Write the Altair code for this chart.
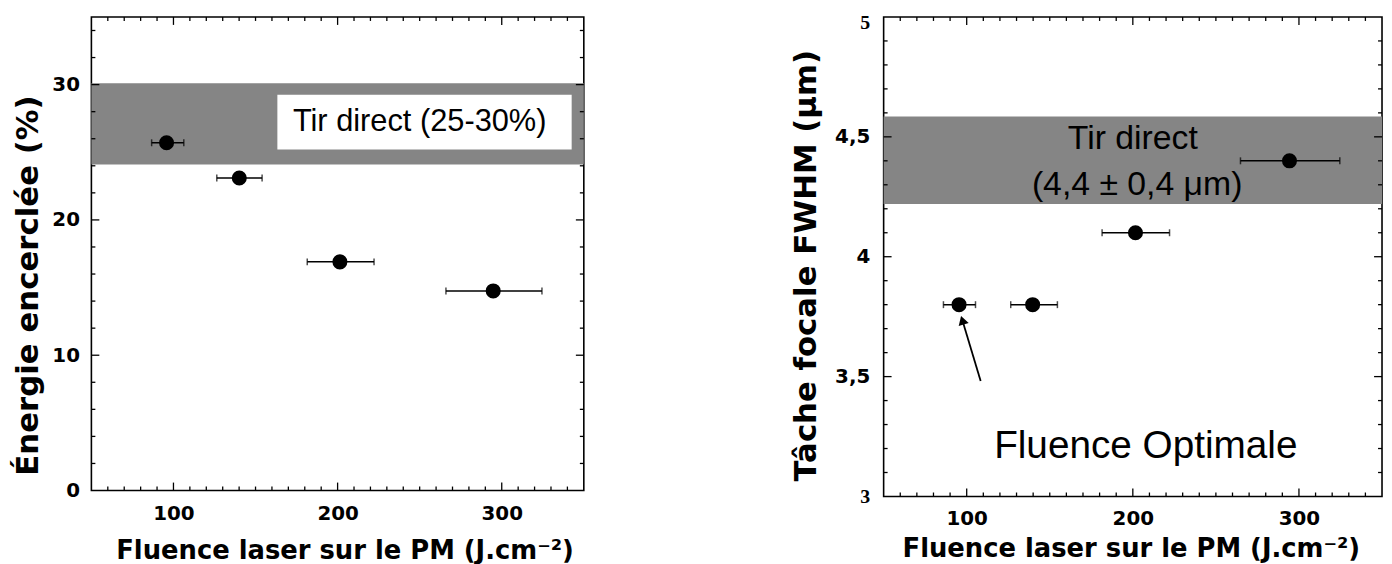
import altair as alt
import pandas as pd

# ---------------- data ----------------
fluence_E = [95.8, 140.1, 201.4, 294.8]
fluence_E_lo = [86.7, 126.4, 181.5, 266.0]
fluence_E_hi = [106.3, 154.0, 222.2, 324.5]
energie = [25.7, 23.1, 16.9, 14.75]

fluence_F = [95.4, 139.7, 201.6, 294.3]
fluence_F_lo = [86.0, 126.5, 181.5, 264.8]
fluence_F_hi = [105.3, 154.6, 222.1, 324.6]
fwhm = [3.8, 3.8, 4.1, 4.4]

band_E = [24.1, 30.1]
band_F = [4.22, 4.585]

box_E_x = [163.3, 342.6]
box_E_y = [25.2, 29.25]
label_E = ["Tir direct (25-30%)"]
label_E_pos = [250.0, 27.2]

labels_F = ["Tir direct", "(4,4 \u00b1 0,4 \u03bcm)", "Fluence Optimale"]
labels_F_x = [200.0, 202.6, 207.8]
labels_F_y = [4.49, 4.30, 3.21]

arrow_start = [108.4, 3.482]
arrow_end = [97.4, 3.735]

x_major = [100, 200, 300]
x_minor = [60, 70, 80, 90, 110, 120, 130, 140, 150, 160, 170, 180, 190,
           210, 220, 230, 240, 250, 260, 270, 280, 290, 310, 320, 330, 340]
yE_major = [10, 20, 30]
yE_minor = [2, 4, 6, 8, 12, 14, 16, 18, 22, 24, 26, 28, 32, 34]
yE_labels = [0, 10, 20, 30]
yF_major = [3.5, 4.0, 4.5]
yF_minor = [3.1, 3.2, 3.3, 3.4, 3.6, 3.7, 3.8, 3.9, 4.1, 4.2, 4.3, 4.4,
            4.6, 4.7, 4.8, 4.9]
yF_labels = [3, 3.5, 4, 4.5, 5]

XTITLE = "Fluence laser sur le PM (J.cm\u207b\u00b2)"
BOLD = "DejaVu Sans"
PLAIN = "Liberation Sans"
GRAY = "#858585"


def make_panel(W, H, xs, ys, xaxis, yaxis, xv, xlo, xhi, yv, band,
               y_major, y_minor, extra):
    X = lambda f="x": alt.X(f"{f}:Q", scale=xs, axis=xaxis)
    Y = lambda f="y": alt.Y(f"{f}:Q", scale=ys, axis=yaxis)

    band_df = pd.DataFrame({"y": [band[0]], "y2": [band[1]]})
    band_l = alt.Chart(band_df).mark_rect(color=GRAY).encode(
        x=alt.value(0), x2=alt.value(W), y=Y(), y2="y2:Q")

    pts = pd.DataFrame({"x": xv, "lo": xlo, "hi": xhi, "y": yv})
    err = alt.Chart(pts).mark_rule(color="black", strokeWidth=1.5).encode(
        x=X("lo"), x2="hi:Q", y=Y())
    cap_lo = alt.Chart(pts).mark_tick(color="black", orient="vertical",
                                      size=7, thickness=1.5).encode(x=X("lo"), y=Y())
    cap_hi = alt.Chart(pts).mark_tick(color="black", orient="vertical",
                                      size=7, thickness=1.5).encode(x=X("hi"), y=Y())
    dots = alt.Chart(pts).mark_circle(color="black", opacity=1, size=230).encode(
        x=X(), y=Y())

    tick_layers = []
    for vals, L in ((x_major, 8), (x_minor, 4)):
        d = pd.DataFrame({"x": vals})
        tick_layers.append(alt.Chart(d).mark_rule(color="black", strokeWidth=1.3).encode(
            x=X(), y=alt.value(H), y2=alt.value(H - L)))
        tick_layers.append(alt.Chart(d).mark_rule(color="black", strokeWidth=1.3).encode(
            x=X(), y=alt.value(0), y2=alt.value(L)))
    for vals, L in ((y_major, 8), (y_minor, 4)):
        d = pd.DataFrame({"y": vals})
        tick_layers.append(alt.Chart(d).mark_rule(color="black", strokeWidth=1.3).encode(
            y=Y(), x=alt.value(0), x2=alt.value(L)))
        tick_layers.append(alt.Chart(d).mark_rule(color="black", strokeWidth=1.3).encode(
            y=Y(), x=alt.value(W), x2=alt.value(W - L)))

    layers = [band_l] + extra(X, Y) + [err, cap_lo, cap_hi, dots] + tick_layers
    return alt.layer(*layers).properties(width=W, height=H)


def axis_x(label_pad, title_y, title_x):
    return alt.Axis(values=x_major, ticks=False, tickSize=0, domain=False, grid=False,
                    labelFont=BOLD, labelFontWeight="bold", labelFontSize=20,
                    labelColor="black", labelPadding=label_pad, format="d",
                    title=XTITLE, titleFont=BOLD, titleFontWeight="bold",
                    titleFontSize=26, titleColor="black", titleBaseline="alphabetic",
                    titleAlign="center", titleX=title_x, titleY=title_y)


# ---------------- left panel ----------------
WL, HL = 496, 477
xsL = alt.Scale(domain=[50, 350], nice=False, zero=False)
ysL = alt.Scale(domain=[0, 35], nice=False, zero=False)
xaxL = axis_x(13, 68, 255)
yaxL = alt.Axis(values=yE_labels, ticks=False, tickSize=0, domain=False, grid=False,
                labelFont=BOLD, labelFontWeight="bold", labelFontSize=20,
                labelColor="black", labelPadding=12, format="d",
                title="\u00c9nergie encercl\u00e9e (%)", titleFont=BOLD,
                titleFontWeight="bold", titleFontSize=31, titleColor="black",
                titleAngle=270, titleBaseline="middle", titleAlign="center",
                titleX=-63, titleY=270)


def extra_left(X, Y):
    box = pd.DataFrame({"x": [box_E_x[0]], "x2": [box_E_x[1]],
                        "y": [box_E_y[0]], "y2": [box_E_y[1]]})
    box_l = alt.Chart(box).mark_rect(color="white").encode(
        x=X(), x2="x2:Q", y=Y(), y2="y2:Q")
    t = pd.DataFrame({"x": [label_E_pos[0]], "y": [label_E_pos[1]], "t": label_E})
    txt = alt.Chart(t).mark_text(font=PLAIN, fontSize=31, color="black",
                                 baseline="middle", align="center").encode(
        x=X(), y=Y(), text="t:N")
    return [box_l, txt]


left = make_panel(WL, HL, xsL, ysL, xaxL, yaxL, fluence_E, fluence_E_lo,
                  fluence_E_hi, energie, band_E, yE_major, yE_minor, extra_left)

# ---------------- right panel ----------------
WR, HR = 502, 483
xsR = alt.Scale(domain=[50, 350], nice=False, zero=False)
ysR = alt.Scale(domain=[3, 5], nice=False, zero=False)
xaxR = axis_x(12, 60, 249)
yaxR = alt.Axis(values=yF_labels, ticks=False, tickSize=0, domain=False, grid=False,
                labelFont={"condition": {"test": "datum.value == 3 || datum.value == 5",
                                         "value": "Liberation Serif"},
                           "value": BOLD},
                labelBaseline={"condition": {"test": "datum.value == 5",
                                             "value": "top"},
                               "value": "middle"},
                labelOffset={"condition": {"test": "datum.value == 5",
                                           "value": -4},
                             "value": 0},
                labelFontWeight="bold", labelFontSize=20,
                labelColor="black", labelPadding=14,
                labelExpr="replace(format(datum.value, '.1~f'), '.', ',')",
                title="T\u00e2che focale FWHM (\u03bcm)", titleFont=BOLD,
                titleFontWeight="bold", titleFontSize=31, titleColor="black",
                titleAngle=270, titleBaseline="middle", titleAlign="center",
                titleX=-78, titleY=250)


def extra_right(X, Y):
    t = pd.DataFrame({"x": labels_F_x, "y": labels_F_y, "t": labels_F,
                      "s": [34, 34, 39]})
    txt = alt.Chart(t).mark_text(font=PLAIN, color="black", baseline="middle",
                                 align="center").encode(
        x=X(), y=Y(), text="t:N", size=alt.Size("s:Q", scale=None, legend=None))
    a = pd.DataFrame({"x": [arrow_start[0]], "y": [arrow_start[1]],
                      "x2": [arrow_end[0]], "y2": [arrow_end[1]]})
    shaft = alt.Chart(a).mark_rule(color="black", strokeWidth=1.8).encode(
        x=X(), y=Y(), x2="x2:Q", y2="y2:Q")
    h = pd.DataFrame({"x": [arrow_end[0]], "y": [arrow_end[1]]})
    head = alt.Chart(h).mark_point(shape="triangle-up", filled=True, color="black",
                                   opacity=1, size=110, angle=343).encode(x=X(), y=Y())
    return [txt, shaft, head]


right = make_panel(WR, HR, xsR, ysR, xaxR, yaxR, fluence_F, fluence_F_lo,
                   fluence_F_hi, fwhm, band_F, yF_major, yF_minor, extra_right)

chart = alt.hconcat(left, right, spacing=205).properties(
    padding={"left": 4, "top": 2, "right": 0, "bottom": 0},
    background="white",
).configure_view(stroke="black", strokeWidth=1.6)

chart.save("out.html", embed_options={"renderer": "svg", "actions": False})
